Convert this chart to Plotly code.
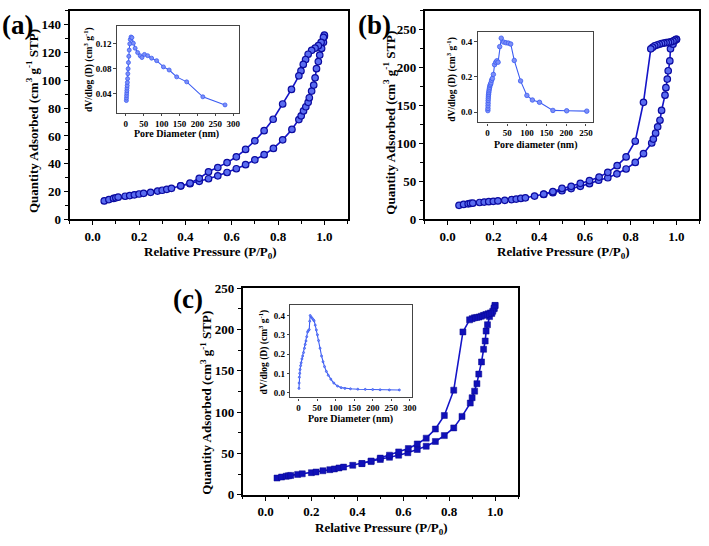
import plotly.graph_objects as go

# ---------------- data ----------------
# Panel (a) isotherm
a_ads_p = [0.05,0.07,0.09,0.10,0.11,0.14,0.16,0.18,0.20,0.22,0.25,0.28,0.30,0.32,0.34,0.38,0.42,0.46,0.50,0.54,0.58,0.62,0.66,
           0.70,0.74,0.78,0.82,0.86,0.89,0.90,0.91,0.92,0.93,0.935,0.945,0.954,0.96,0.966,0.974,0.98,0.988,0.996,1.0]
a_ads_q = [13.2,14.2,15.0,15.5,15.9,16.6,17.1,17.6,18.2,18.7,19.4,20.3,20.9,21.6,22.3,24.0,25.6,27.3,29.2,31.3,33.7,36.4,39.3,
           42.8,46.5,51.0,57.2,64.7,71.8,74.5,78.0,81.0,84.2,87.5,92.3,96.6,101.8,108.4,113.5,118.2,123.0,127.4,131.7]
a_des_p = [1.0,0.996,0.986,0.974,0.96,0.945,0.93,0.919,0.909,0.899,0.89,0.858,0.82,0.779,0.74,0.70,0.66,0.62,0.58,0.54,0.50,0.46,0.42,0.38]
a_des_q = [132.6,131.0,127.4,125.0,123.2,121.6,118.8,115.0,111.5,106.8,103.3,93.5,83.0,72.0,63.8,56.5,50.3,45.0,40.8,37.2,34.2,29.5,26.0,24.1]

# Panel (a) inset: pore size distribution
a_psd_d = [1.5,1.8,2.1,2.5,2.9,3.3,3.8,4.3,4.9,5.6,6.4,7.3,8.3,9.5,11,12.5,14.5,17,21,26,33,40,45,52,61,72,86,105,121,142,170,215,277]
a_psd_v = [0.029,0.033,0.037,0.041,0.045,0.049,0.053,0.058,0.064,0.072,0.080,0.090,0.100,0.110,0.120,0.127,0.131,0.130,0.121,0.113,
           0.106,0.101,0.098,0.103,0.101,0.097,0.093,0.083,0.078,0.067,0.059,0.035,0.022]

# Panel (b) isotherm
b_ads_p = [0.05,0.07,0.09,0.10,0.11,0.14,0.16,0.18,0.20,0.22,0.25,0.28,0.30,0.32,0.34,0.38,0.42,0.46,0.50,0.54,0.58,0.62,0.66,0.70,
           0.74,0.78,0.82,0.856,0.892,0.899,0.909,0.918,0.928,0.935,0.95,0.954,0.96,0.964,0.971,0.974,0.985,0.993,1.0]
b_ads_q = [18.4,19.6,20.4,20.9,21.3,22.2,22.7,23.2,23.7,24.3,25.1,26.0,26.7,27.5,28.4,30.6,32.8,35.2,37.7,40.5,43.5,47.0,51.5,54.8,
           60.0,66.4,75.0,86.6,100.7,105.9,113.6,122.0,130.7,143.6,163.8,173.7,185.0,196.0,209.0,225.0,231.0,236.0,237.5]
b_des_p = [1.0,0.993,0.985,0.975,0.965,0.955,0.945,0.935,0.925,0.915,0.905,0.896,0.888,0.856,0.82,0.78,0.741,0.70,0.662,0.62,0.58,0.54,0.50,0.46,0.42]
b_des_q = [237.5,236.5,235.0,234.0,233.5,233.0,232.5,232.0,231.0,230.0,229.0,227.0,225.0,154.4,103.0,82.3,70.8,62.0,55.7,51.0,47.5,43.5,40.7,36.5,33.2]

# Panel (b) inset
b_psd_d = [1.0,1.2,1.4,1.6,1.8,2.1,2.4,2.8,3.3,3.9,4.6,5.4,6.4,7.6,9,10.5,12.5,15,18,21,24,27,31,35,41,47,53,59,68,84,100,114,132,166,201,252]
b_psd_v = [0.008,0.02,0.035,0.05,0.065,0.078,0.09,0.1,0.11,0.12,0.13,0.14,0.15,0.157,0.165,0.18,0.19,0.213,0.268,0.282,0.29,0.282,
           0.37,0.418,0.396,0.392,0.39,0.385,0.292,0.176,0.094,0.068,0.055,0.009,0.007,0.005]

# Panel (c) isotherm
c_ads_p = [0.05,0.07,0.09,0.10,0.11,0.14,0.16,0.20,0.22,0.25,0.28,0.30,0.32,0.34,0.38,0.42,0.46,0.50,0.54,0.58,0.62,0.661,0.70,
           0.74,0.779,0.82,0.856,0.892,0.90,0.911,0.921,0.929,0.941,0.95,0.957,0.961,0.967,0.976,0.986,0.996,1.0]
c_ads_q = [20.4,21.6,22.6,23.1,23.6,24.8,25.5,26.9,27.7,29.2,30.5,31.4,32.6,33.6,35.8,37.8,40.3,42.8,45.5,48.0,51.0,54.9,58.8,
           64.6,71.7,81.0,94.9,111.0,117.5,125.4,134.5,146.0,160.7,176.0,186.0,198.0,205.7,215.5,219.4,225.0,229.0]
c_des_p = [1.0,0.996,0.99,0.98,0.97,0.96,0.95,0.94,0.93,0.92,0.91,0.90,0.889,0.86,0.82,0.779,0.74,0.70,0.661,0.622,0.58,0.54,0.50,0.46,0.42]
c_des_q = [229.0,226.0,222.0,220.0,219.0,218.0,217.0,216.0,215.0,214.5,214.0,213.0,211.6,197.0,126.6,96.0,79.6,68.6,61.6,56.0,52.0,48.0,44.5,41.0,38.0]

# Panel (c) inset
c_psd_d = [1,1.5,2,3,4,5.5,7,9,11,13.5,16,18,20,22,24.3,26.5,28.8,30,31.4,34,37,40,42,45,48,51,54,58,62,66,70,75,80,87,95,105,115,
           125,140,160,180,200,220,245,272]
c_psd_v = [0.022,0.05,0.08,0.1,0.12,0.14,0.155,0.175,0.19,0.208,0.23,0.25,0.268,0.29,0.315,0.322,0.327,0.37,0.4,0.392,0.385,0.378,
           0.372,0.35,0.325,0.3,0.27,0.23,0.19,0.16,0.135,0.11,0.09,0.07,0.05,0.034,0.026,0.022,0.02,0.018,0.017,0.016,0.015,0.014,0.014]

# ---------------- styling ----------------
W, H = 709, 546
FONT = "Liberation Serif"
LINE_BLUE = "#1414c8"
SPHERE_FILL = "#5a6cf0"
SPHERE_EDGE = "#0c0ca0"
INSET_BLUE = "#3b5cf2"


def px(x):
    return x / W


def py(y):
    return 1 - y / H


fig = go.Figure()


def add_main(ax, ads_p, ads_q, des_p, des_q, symbol):
    xa = "x" if ax == 1 else f"x{ax}"
    ya = "y" if ax == 1 else f"y{ax}"
    if symbol == "circle":
        mk = dict(symbol="circle", size=6.5, color=SPHERE_FILL, line=dict(color=SPHERE_EDGE, width=1.2))
    else:
        mk = dict(symbol="square", size=6, color="#1010b8", line=dict(color="#0a0a90", width=0.5))
    for xs, ys in ((ads_p, ads_q), (des_p, des_q)):
        fig.add_trace(go.Scatter(x=xs, y=ys, mode="lines+markers", xaxis=xa, yaxis=ya,
                                 line=dict(color=LINE_BLUE, width=1.6), marker=mk,
                                 showlegend=False, hoverinfo="skip"))


def add_inset(ax, d, v, msize):
    xa = f"x{ax}"
    ya = f"y{ax}"
    fig.add_trace(go.Scatter(x=d, y=v, mode="lines+markers", xaxis=xa, yaxis=ya,
                             line=dict(color=INSET_BLUE, width=1.1),
                             marker=dict(symbol="circle", size=msize, color="#7d8ff7",
                                         line=dict(color=INSET_BLUE, width=0.8)),
                             showlegend=False, hoverinfo="skip"))


add_main(1, a_ads_p, a_ads_q, a_des_p, a_des_q, "circle")
add_main(2, b_ads_p, b_ads_q, b_des_p, b_des_q, "circle")
add_main(3, c_ads_p, c_ads_q, c_des_p, c_des_q, "square")
add_inset(4, a_psd_d, a_psd_v, 4)
add_inset(5, b_psd_d, b_psd_v, 4.5)
add_inset(6, c_psd_d, c_psd_v, 2)

tick_main = dict(family=FONT, size=13, color="black", weight="bold")
tick_in = dict(family=FONT, size=9, color="black", weight="bold")


def main_x(dom, anchor):
    return dict(domain=dom, anchor=anchor, range=[-0.1, 1.1], tickvals=[0, 0.2, 0.4, 0.6, 0.8, 1.0],
                tickformat=".1f", showline=True, linecolor="black", linewidth=1.6, mirror=True,
                ticks="outside", ticklen=4, tickwidth=1.3, tickcolor="black", showgrid=False, zeroline=False,
                tickfont=tick_main,
                minor=dict(tickvals=[-0.1, 0.1, 0.3, 0.5, 0.7, 0.9, 1.1], ticks="outside", ticklen=2.5,
                           tickcolor="black", tickwidth=1, showgrid=False))


def main_y(dom, anchor, rng, dt):
    return dict(domain=dom, anchor=anchor, range=rng, dtick=dt, tick0=0,
                showline=True, linecolor="black", linewidth=1.6, mirror=True,
                ticks="outside", ticklen=4, tickwidth=1.3, tickcolor="black", showgrid=False, zeroline=False,
                tickfont=tick_main,
                minor=dict(dtick=dt / 2, tick0=0, ticks="outside", ticklen=2.5, tickcolor="black",
                           tickwidth=1, showgrid=False))


def in_x(dom, anchor, rng, tv):
    return dict(domain=dom, anchor=anchor, range=rng, tickvals=tv, showline=True, linecolor="#444444",
                linewidth=1.2, mirror=True, ticks="outside", ticklen=2, tickwidth=1, tickcolor="#444444",
                showgrid=False, zeroline=False, tickfont=tick_in)


def in_y(dom, anchor, rng, tv, fmt):
    return dict(domain=dom, anchor=anchor, range=rng, tickvals=tv, tickformat=fmt, showline=True,
                linecolor="#444444", linewidth=1.2, mirror=True, ticks="outside", ticklen=2.5, tickwidth=1,
                tickcolor="#444444", showgrid=False, zeroline=False, tickfont=tick_in)


fig.update_layout(
    width=W, height=H, margin=dict(l=0, r=0, t=0, b=0),
    paper_bgcolor="white", plot_bgcolor="white",
    xaxis=main_x([px(70), px(350)], "y"),
    yaxis=main_y([py(218.3), py(4)], "x", [0, 150], 20),
    xaxis2=main_x([px(427.7), px(704.3)], "y2"),
    yaxis2=main_y([py(218.3), py(4)], "x2", [0, 275], 50),
    xaxis3=main_x([px(244.3), px(521.7)], "y3"),
    yaxis3=main_y([py(501.7), py(289)], "x3", [0, 250], 50),
    xaxis4=in_x([px(117.7), px(240.7)], "y4", [-25, 316], [0, 50, 100, 150, 200, 250, 300]),
    yaxis4=in_y([py(109), py(19.3)], "x4", [0.009, 0.149], [0.04, 0.08, 0.12], ".2f"),
    xaxis5=in_x([px(481), px(597.3)], "y5", [-25, 268], [0, 50, 100, 150, 200, 250]),
    yaxis5=in_y([py(118.7), py(25.7)], "x5", [-0.059, 0.453], [0.0, 0.2, 0.4], ".1f"),
    xaxis6=in_x([px(292.5), px(414.5)], "y6", [-22, 305], [0, 50, 100, 150, 200, 250, 300]),
    yaxis6=in_y([py(401.5), py(306.5)], "x6", [-0.025, 0.454], [0.0, 0.1, 0.2, 0.3, 0.4], ".1f"),
)

ytitle_main = "Quantity Adsorbed (cm<sup>3</sup> g<sup>-1</sup> STP)"
xtitle_main = "Relative Pressure (P/P<sub>0</sub>)"
ytitle_in = "dV/dlog (D) (cm<sup>3</sup> g<sup>-1</sup>)"

anns = [
    # panel labels
    ("(a)", 18, 18, 0, 27),
    ("(b)", 377.5, 18, 0, 27),
    ("(c)", 189, 300, 0, 27),
    # main titles
    (ytitle_main, 33, 117.5, -90, 13),
    (xtitle_main, 211.7, 252.5, 0, 13),
    (ytitle_main, 391.7, 119, -90, 13),
    (xtitle_main, 567.8, 252.5, 0, 13),
    (ytitle_main, 206.7, 406.7, -90, 13),
    (xtitle_main, 383.8, 536, 0, 13),
    # inset titles
    (ytitle_in, 89.3, 64, -90, 9.5),
    ("Pore Diameter (nm)", 177.5, 131, 0, 10),
    (ytitle_in, 455, 74, -90, 9.5),
    ("Pore diameter (nm)", 540, 142, 0, 10),
    (ytitle_in, 265, 355, -90, 9.5),
    ("Pore Diameter (nm)", 353.3, 423.5, 0, 10),
]
for text, x, y, ang, sz in anns:
    fig.add_annotation(text=text, x=px(x), y=py(y), xref="paper", yref="paper", showarrow=False,
                       xanchor="center", yanchor="middle", textangle=ang,
                       font=dict(family=FONT, size=sz, color="black", weight="bold"))

# remove the default 8px page margin so the 709x546 figure sits exactly in the window
fig.write_html("out.html", config={"displayModeBar": False},
               post_script="document.body.style.margin='0px';document.body.style.overflow='hidden';")
